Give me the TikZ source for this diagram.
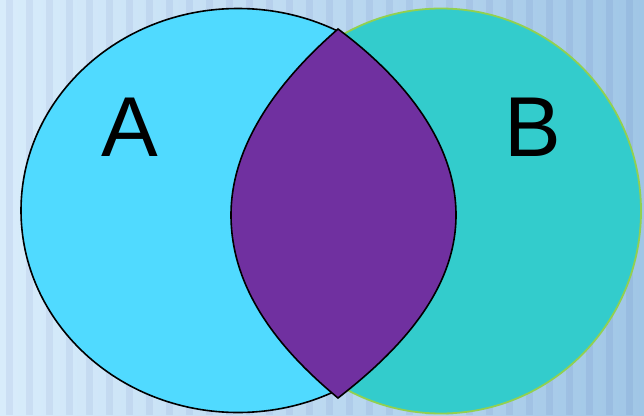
\documentclass[tikz,border=0pt]{standalone}
\usepackage{fontspec}
\setmainfont{Liberation Sans}
\definecolor{bgleft}{RGB}{216,236,251}
\definecolor{bgright}{RGB}{160,198,230}
\definecolor{setAcol}{RGB}{80,218,255}
\definecolor{setBcol}{RGB}{51,204,204}
\definecolor{lenscol}{RGB}{112,48,160}
\definecolor{rimB}{RGB}{146,208,80}
\newcommand{\ellA}{(238,210.5) ellipse [x radius=217pt, y radius=202pt]}
\newcommand{\ellB}{(441,211) ellipse [x radius=200pt, y radius=202.5pt]}
\begin{document}
\begin{tikzpicture}[x=1pt,y=-1pt,
    setlabel/.style={inner sep=0pt,font=\fontsize{85}{85}\selectfont}]
    \useasboundingbox (0,0) rectangle (644,415);
    % backdrop
    \shade[left color=bgleft,right color=bgright] (0,0) rectangle (644,415);
    \foreach \x in {0,20,...,640} {\fill[blue!50!black,opacity=0.05] (\x+6,0) rectangle (\x+13,415);}

    % the two sets
    \filldraw[fill=setAcol,draw=black,line width=1.6pt] \ellA;
    \filldraw[fill=setBcol,draw=rimB,line width=1.8pt] \ellB;

    % common part
    \filldraw[fill=lenscol,draw=black,line width=1.6pt,line join=miter]
        (338,29) .. controls (285,75) and (231,140) .. (231,215)
        .. controls (231,290) and (280,350) .. (338,398)
        .. controls (400,350) and (456,290) .. (456,215)
        .. controls (456,140) and (400,75) .. (338,29) -- cycle;

    \node[setlabel] (labA) at (130,127) {A};
    \node[setlabel] (labB) at (533,127) {B};
\end{tikzpicture}
\end{document}
